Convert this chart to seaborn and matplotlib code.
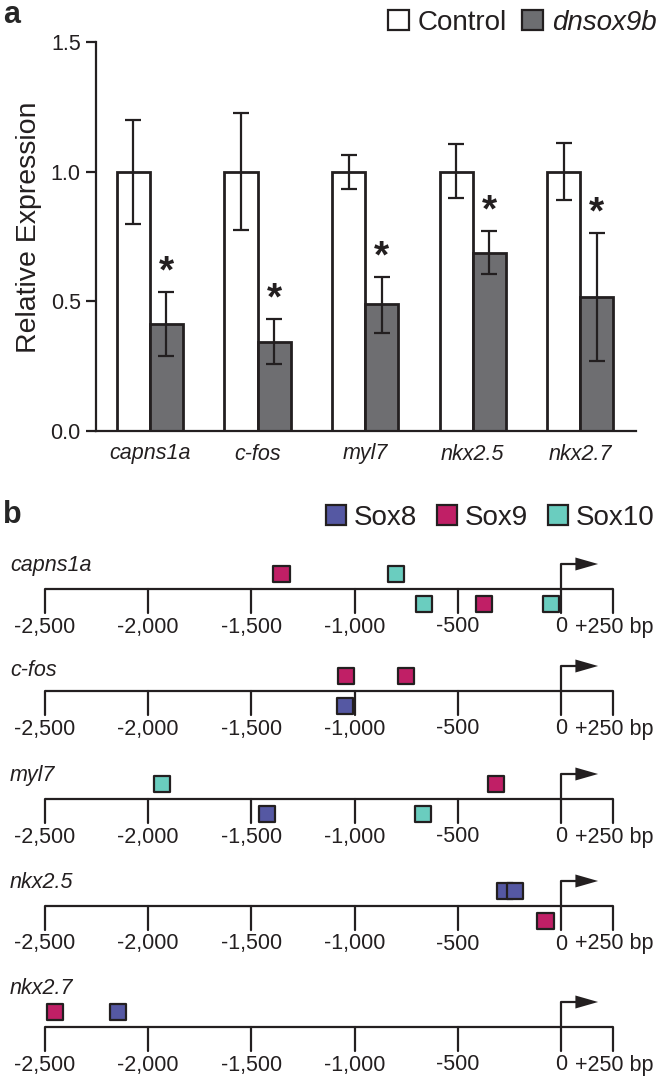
import numpy as np
import pandas as pd
import matplotlib.pyplot as plt
from matplotlib.patches import Patch
import seaborn as sns

genes = ['capns1a', 'c-fos', 'myl7', 'nkx2.5', 'nkx2.7']
ctrl_mean = [1.0, 1.0, 1.0, 1.0, 1.0]
ctrl_lo = [0.80, 0.775, 0.935, 0.90, 0.89]
ctrl_hi = [1.20, 1.225, 1.063, 1.105, 1.11]
dn_mean = [0.414, 0.344, 0.488, 0.688, 0.517]
dn_lo = [0.289, 0.257, 0.379, 0.604, 0.27]
dn_hi = [0.536, 0.431, 0.595, 0.771, 0.762]
conditions = ['Control', 'dnsox9b']

# panel b: predicted Sox binding sites (bp from TSS), strand = above/below line
site_gene = ['capns1a'] * 5 + ['c-fos'] * 3 + ['myl7'] * 4 + ['nkx2.5'] * 3 + ['nkx2.7'] * 2
site_factor = ['Sox9', 'Sox10', 'Sox10', 'Sox9', 'Sox10',
               'Sox9', 'Sox9', 'Sox8',
               'Sox10', 'Sox9', 'Sox8', 'Sox10',
               'Sox8', 'Sox8', 'Sox9',
               'Sox9', 'Sox8']
site_pos = [-1354, -798, -665, -373, -48,
            -1040, -752, -1045,
            -1934, -313, -1426, -670,
            -270, -224, -75,
            -2452, -2146]
site_strand = ['+', '+', '-', '-', '-',
               '+', '+', '-',
               '+', '+', '-', '-',
               '+', '+', '-',
               '+', '+']
bp_ticks = [-2500, -2000, -1500, -1000, -500, 0, 250]
bp_labels = ['-2,500', '-2,000', '-1,500', '-1,000', '-500', '0', '']
factors = ['Sox8', 'Sox9', 'Sox10']
factor_colors = {'Sox8': '#5558a3', 'Sox9': '#c01f66', 'Sox10': '#6acdbf'}

ink = '#231f20'
gray = '#6d6e71'

sns.set_style('ticks')
plt.rcParams['font.family'] = ['Liberation Sans', 'DejaVu Sans']

fig = plt.figure(figsize=(6.66, 10.81), dpi=100)

# ---------- panel a ----------
ax = fig.add_axes([96 / 666, 1 - 431 / 1081, 540 / 666, 389 / 1081])
df = pd.DataFrame({
    'gene': genes * 2,
    'condition': ['Control'] * 5 + ['dnsox9b'] * 5,
    'value': ctrl_mean + dn_mean,
})
sns.barplot(data=df, x='gene', y='value', hue='condition', order=genes,
            hue_order=conditions, palette={'Control': 'white', 'dnsox9b': gray},
            edgecolor=ink, linewidth=2, width=0.614, errorbar=None,
            legend=False, ax=ax)

lows = [ctrl_lo, dn_lo]
highs = [ctrl_hi, dn_hi]
means = [ctrl_mean, dn_mean]
bar_groups = list(ax.containers[:2])
for k, cont in enumerate(bar_groups):
    xs = [p.get_x() + p.get_width() / 2 for p in cont]
    m = np.array(means[k])
    yerr = [m - np.array(lows[k]), np.array(highs[k]) - m]
    ax.errorbar(xs, m, yerr=yerr, fmt='none', ecolor=ink, elinewidth=1.6,
                capsize=6, capthick=1.6, zorder=5)
    if k == 1:
        for x, h in zip(xs, highs[k]):
            ax.text(x, h + 0.075, '*', ha='center', va='center',
                    fontsize=28, fontweight='bold', color=ink)

ax.set_xlim(-0.502, 4.52)
ax.set_ylim(0, 1.5)
ax.set_yticks([0, 0.5, 1.0, 1.5])
ax.set_yticklabels(['0.0', '0.5', '1.0', '1.5'])
ax.set_xlabel('')
ax.set_ylabel('Relative Expression', fontsize=20.5, color=ink)
ax.yaxis.set_label_coords(-0.1, 0.524)
sns.despine(ax=ax)
ax.spines['left'].set_bounds(0, 1.5)
for s in ['left', 'bottom']:
    ax.spines[s].set_linewidth(1.6)
    ax.spines[s].set_color(ink)
ax.tick_params(axis='y', length=7, width=1.6, color=ink, labelsize=15.5,
               labelcolor=ink, pad=4)
ax.tick_params(axis='x', length=0, labelsize=15.5, labelcolor=ink, pad=9)
for t in ax.get_xticklabels():
    t.set_style('italic')

leg_a = fig.legend(
    handles=[Patch(facecolor='white', edgecolor=ink, linewidth=1.6, label='Control'),
             Patch(facecolor=gray, edgecolor=ink, linewidth=1.6, label='dnsox9b')],
    loc='upper right', bbox_to_anchor=(657 / 666, 1 - 10 / 1081), ncol=2,
    frameon=False, fontsize=20, handlelength=0.76, handleheight=0.74,
    handletextpad=0.32, columnspacing=0.55, borderpad=0, borderaxespad=0)
leg_a.get_texts()[1].set_style('italic')
for t in leg_a.get_texts():
    t.set_color(ink)

fig.text(3 / 666, 1 - 23 / 1081, 'a', fontsize=22, fontweight='bold',
         va='baseline', ha='left')
fig.text(3 / 666, 1 - 523 / 1081, 'b', fontsize=22, fontweight='bold',
         va='baseline', ha='left')

# ---------- panel b ----------
bx = fig.add_axes([0, 0, 1, 601 / 1081])
bx.set_xlim(-2718, 509)
bx.set_ylim(1081, 480)
bx.axis('off')

line_y = [589, 691, 799, 906, 1027]
label_y = [565, 670, 776, 883, 989]
row_of = dict(zip(genes, line_y))

for g, ly, gy in zip(genes, line_y, label_y):
    bx.plot([bp_ticks[0], bp_ticks[-1]], [ly, ly], color=ink, lw=1.6,
            solid_capstyle='butt', zorder=1)
    for t, lab in zip(bp_ticks, bp_labels):
        bx.plot([t, t], [ly, ly + 24], color=ink, lw=1.6, zorder=1)
        bx.text(t, ly + 38, lab, ha='center', va='center', fontsize=15.5,
                color=ink)
    bx.text(70, ly + 38, '+250 bp', ha='left', va='center', fontsize=15.5,
            color=ink)
    # TSS arrow
    bx.plot([0, 0, 75], [ly, ly - 25, ly - 25], color=ink, lw=1.6, zorder=1)
    bx.fill([70, 180, 70], [ly - 31.5, ly - 25, ly - 18.5], color=ink, lw=0)
    bx.text(bp_ticks[0] - 170, gy, g, ha='left', va='center', fontsize=15.5,
            style='italic', color=ink)

sites = pd.DataFrame({'gene': site_gene, 'factor': site_factor,
                      'pos': site_pos, 'strand': site_strand})
sites['y'] = [row_of[g] + (-15 if s == '+' else 15)
              for g, s in zip(sites['gene'], sites['strand'])]
sns.scatterplot(data=sites, x='pos', y='y', hue='factor', palette=factor_colors,
                marker='s', s=135, edgecolor=ink, linewidth=1.6, legend=False,
                zorder=3, ax=bx)
bx.set_xlabel('')
bx.set_ylabel('')

leg_b = fig.legend(
    handles=[Patch(facecolor=factor_colors[f], edgecolor=ink, linewidth=1.6, label=f)
             for f in factors],
    loc='upper right', bbox_to_anchor=(655 / 666, 1 - 505 / 1081), ncol=3,
    frameon=False, fontsize=20, handlelength=0.72, handleheight=0.74,
    handletextpad=0.3, columnspacing=0.7, borderpad=0, borderaxespad=0)
for t in leg_b.get_texts():
    t.set_color(ink)

fig.savefig('out.png', dpi=100)
